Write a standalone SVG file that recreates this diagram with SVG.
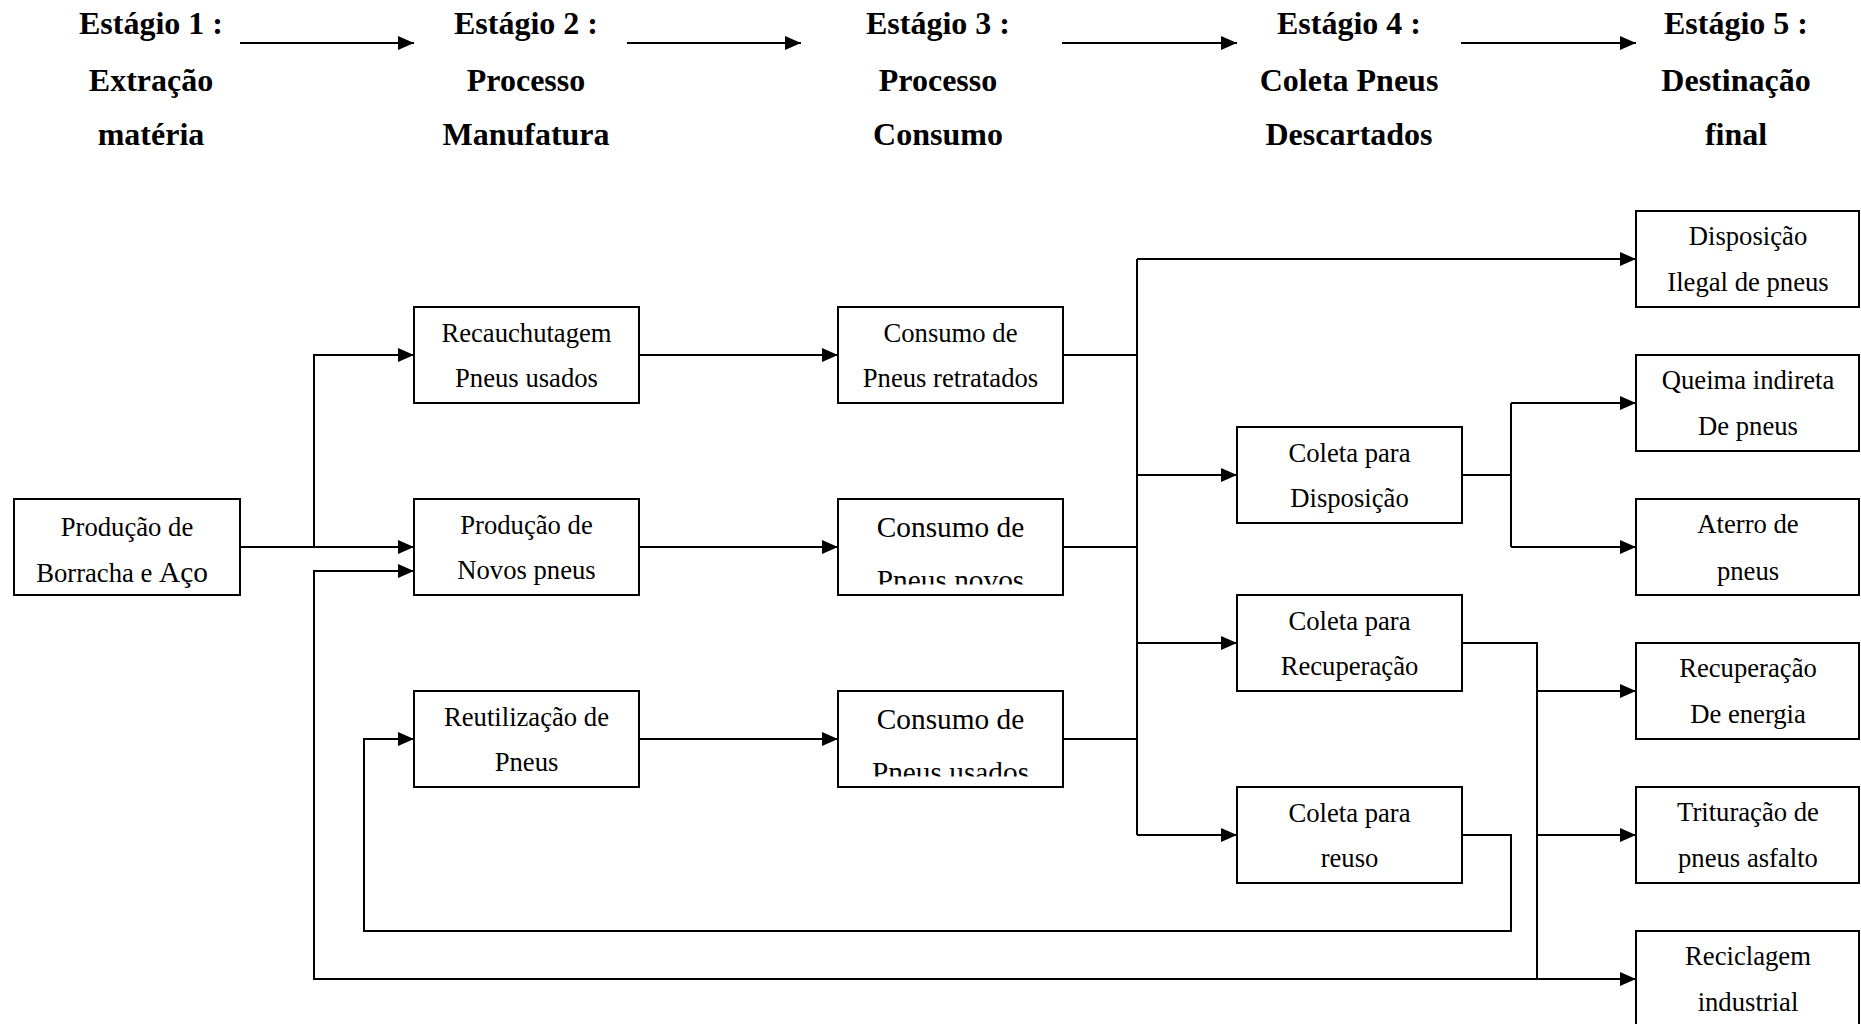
<svg xmlns="http://www.w3.org/2000/svg" width="1861" height="1024" viewBox="0 0 1861 1024">
<style>
.box{fill:#fff;stroke:#000;stroke-width:2}
.t{font-family:"Liberation Serif","Times New Roman",serif;font-size:26.67px;text-anchor:middle;fill:#000}
.b{font-family:"Liberation Serif","Times New Roman",serif;font-size:32px;font-weight:bold;text-anchor:middle;fill:#000}
.big{font-size:29.33px}
.c{fill:none;stroke:#000;stroke-width:2}
</style>
<defs>
<marker id="ah" markerUnits="userSpaceOnUse" markerWidth="16" markerHeight="14" refX="16" refY="7" orient="auto" viewBox="0 0 16 14">
<path d="M0,0 L16,7 L0,14 z" fill="#000"/>
</marker>
<clipPath id="clipN"><rect x="838" y="499" width="225" height="85.5"/></clipPath>
<clipPath id="clipU"><rect x="838" y="691" width="225" height="85.5"/></clipPath>
</defs>
<rect width="1861" height="1024" fill="#fff"/>

<g id="headers">
<g id="stage1"><text class="b" x="151" y="34">Estágio 1 :</text><text class="b" x="151" y="91">Extração</text><text class="b" x="151" y="145">matéria</text></g>
<g id="stage2"><text class="b" x="526" y="34">Estágio 2 :</text><text class="b" x="526" y="91">Processo</text><text class="b" x="526" y="145">Manufatura</text></g>
<g id="stage3"><text class="b" x="938" y="34">Estágio 3 :</text><text class="b" x="938" y="91">Processo</text><text class="b" x="938" y="145">Consumo</text></g>
<g id="stage4"><text class="b" x="1349" y="34">Estágio 4 :</text><text class="b" x="1349" y="91">Coleta Pneus</text><text class="b" x="1349" y="145">Descartados</text></g>
<g id="stage5"><text class="b" x="1736" y="34">Estágio 5 :</text><text class="b" x="1736" y="91">Destinação</text><text class="b" x="1736" y="145">final</text></g>
</g>

<g id="connectors">
<path class="c" d="M240,43 H414" marker-end="url(#ah)"/>
<path class="c" d="M627,43 H801" marker-end="url(#ah)"/>
<path class="c" d="M1062,43 H1237" marker-end="url(#ah)"/>
<path class="c" d="M1461,43 H1636" marker-end="url(#ah)"/>

<path class="c" d="M240,547 H414" marker-end="url(#ah)"/>
<path class="c" d="M314,547 V355 H414" marker-end="url(#ah)"/>
<path class="c" d="M639,355 H838" marker-end="url(#ah)"/>
<path class="c" d="M639,547 H838" marker-end="url(#ah)"/>
<path class="c" d="M639,739 H838" marker-end="url(#ah)"/>
<path class="c" d="M1063,355 H1137 M1063,547 H1137 M1063,739 H1137 M1137,259 V835"/>
<path class="c" d="M1137,259 H1636" marker-end="url(#ah)"/>
<path class="c" d="M1137,475 H1237" marker-end="url(#ah)"/>
<path class="c" d="M1137,643 H1237" marker-end="url(#ah)"/>
<path class="c" d="M1137,835 H1237" marker-end="url(#ah)"/>
<path class="c" d="M1462,475 H1511 M1511,403 V547"/>
<path class="c" d="M1511,403 H1636" marker-end="url(#ah)"/>
<path class="c" d="M1511,547 H1636" marker-end="url(#ah)"/>
<path class="c" d="M1462,643 H1537 V979"/>
<path class="c" d="M1537,691 H1636" marker-end="url(#ah)"/>
<path class="c" d="M1537,835 H1636" marker-end="url(#ah)"/>
<path class="c" d="M1537,979 H1636" marker-end="url(#ah)"/>
<path class="c" d="M1462,835 H1511 V931 H364 V739 H414" marker-end="url(#ah)"/>
<path class="c" d="M1537,979 H314 V571 H414" marker-end="url(#ah)"/>
</g>

<g id="n-borracha"><rect class="box" x="14" y="499" width="226" height="96"/><text class="t" x="127" y="535.5">Produção de</text><text class="t" x="122" y="581.5">Borracha e <tspan class="big">Aço</tspan></text></g>
<g id="n-recauchutagem"><rect class="box" x="414" y="307" width="225" height="96"/><text class="t" x="526.5" y="342">Recauchutagem</text><text class="t" x="526.5" y="387">Pneus usados</text></g>
<g id="n-producao"><rect class="box" x="414" y="499" width="225" height="96"/><text class="t" x="526.5" y="534">Produção de</text><text class="t" x="526.5" y="579">Novos pneus</text></g>
<g id="n-reutilizacao"><rect class="box" x="414" y="691" width="225" height="96"/><text class="t" x="526.5" y="726">Reutilização de</text><text class="t" x="526.5" y="771">Pneus</text></g>
<g id="n-consumo-retratados"><rect class="box" x="838" y="307" width="225" height="96"/><text class="t" x="950.5" y="342">Consumo de</text><text class="t" x="950.5" y="387">Pneus retratados</text></g>
<g id="n-consumo-novos"><rect class="box" x="838" y="499" width="225" height="96"/><text class="t big" x="950.5" y="537">Consumo de</text><text class="t big" x="950.5" y="590" clip-path="url(#clipN)">Pneus novos</text></g>
<g id="n-consumo-usados"><rect class="box" x="838" y="691" width="225" height="96"/><text class="t big" x="950.5" y="729">Consumo de</text><text class="t big" x="950.5" y="782" clip-path="url(#clipU)">Pneus usados</text></g>
<g id="n-coleta-disposicao"><rect class="box" x="1237" y="427" width="225" height="96"/><text class="t" x="1349.5" y="462">Coleta para</text><text class="t" x="1349.5" y="507">Disposição</text></g>
<g id="n-coleta-recuperacao"><rect class="box" x="1237" y="595" width="225" height="96"/><text class="t" x="1349.5" y="630">Coleta para</text><text class="t" x="1349.5" y="675">Recuperação</text></g>
<g id="n-coleta-reuso"><rect class="box" x="1237" y="787" width="225" height="96"/><text class="t" x="1349.5" y="822">Coleta para</text><text class="t" x="1349.5" y="867">reuso</text></g>
<g id="n-disposicao-ilegal"><rect class="box" x="1636" y="211" width="223" height="96"/><text class="t" x="1748" y="245">Disposição</text><text class="t" x="1748" y="291">Ilegal de pneus</text></g>
<g id="n-queima"><rect class="box" x="1636" y="355" width="223" height="96"/><text class="t" x="1748" y="389">Queima indireta</text><text class="t" x="1748" y="435">De pneus</text></g>
<g id="n-aterro"><rect class="box" x="1636" y="499" width="223" height="96"/><text class="t" x="1748" y="533">Aterro de</text><text class="t" x="1748" y="580">pneus</text></g>
<g id="n-recuperacao-energia"><rect class="box" x="1636" y="643" width="223" height="96"/><text class="t" x="1748" y="677">Recuperação</text><text class="t" x="1748" y="723">De energia</text></g>
<g id="n-trituracao"><rect class="box" x="1636" y="787" width="223" height="96"/><text class="t" x="1748" y="821">Trituração de</text><text class="t" x="1748" y="867">pneus asfalto</text></g>
<g id="n-reciclagem"><rect class="box" x="1636" y="931" width="223" height="96"/><text class="t" x="1748" y="965">Reciclagem</text><text class="t" x="1748" y="1011">industrial</text></g>
</svg>
